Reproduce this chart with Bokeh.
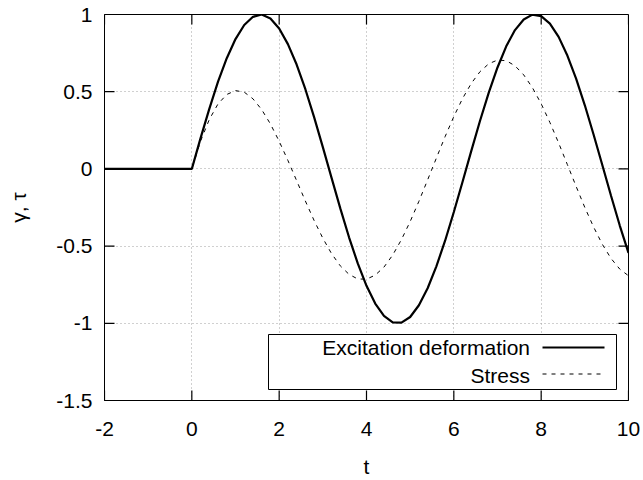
from bokeh.plotting import figure
from bokeh.models import FixedTicker, Range1d, BoxAnnotation, Label, Arrow
from bokeh.embed import file_html
from bokeh.resources import INLINE

# time samples
t = [-2.0, 0.0, 0.2, 0.4, 0.6, 0.8, 1.0, 1.2, 1.4, 1.6, 1.8, 2.0, 2.2, 2.4,
     2.6, 2.8, 3.0, 3.2, 3.4, 3.6, 3.8, 4.0, 4.2, 4.4, 4.6, 4.8, 5.0, 5.2,
     5.4, 5.6, 5.8, 6.0, 6.2, 6.4, 6.6, 6.8, 7.0, 7.2, 7.4, 7.6, 7.8, 8.0,
     8.2, 8.4, 8.6, 8.8, 9.0, 9.2, 9.4, 9.6, 9.8, 10.0]

# excitation deformation (gamma)
gamma = [0.0, 0.0, 0.199, 0.389, 0.565, 0.717, 0.841, 0.932, 0.985, 1.000,
         0.974, 0.909, 0.808, 0.676, 0.516, 0.335, 0.141, -0.058, -0.256,
         -0.443, -0.612, -0.757, -0.872, -0.952, -0.994, -0.996, -0.959,
         -0.883, -0.773, -0.631, -0.465, -0.279, -0.083, 0.117, 0.312, 0.494,
         0.657, 0.794, 0.899, 0.968, 0.999, 0.989, 0.941, 0.855, 0.734, 0.585,
         0.412, 0.223, 0.025, -0.174, -0.367, -0.544]

# stress response (tau)
tau = [0.0, 0.0, 0.180, 0.320, 0.421, 0.482, 0.507, 0.497, 0.454, 0.384,
       0.291, 0.179, 0.055, -0.076, -0.208, -0.334, -0.449, -0.549, -0.628,
       -0.683, -0.713, -0.714, -0.688, -0.636, -0.558, -0.458, -0.341,
       -0.210, -0.071, 0.070, 0.209, 0.339, 0.456, 0.554, 0.630, 0.681,
       0.705, 0.701, 0.668, 0.609, 0.526, 0.422, 0.301, 0.168, 0.028, -0.113,
       -0.250, -0.376, -0.488, -0.580, -0.649, -0.692]

x_ticks = [-2, 0, 2, 4, 6, 8, 10]
x_tick_labels = ["-2", "0", "2", "4", "6", "8", "10"]
y_ticks = [-1.5, -1, -0.5, 0, 0.5, 1]
y_tick_labels = ["-1.5", "-1", "-0.5", "0", "0.5", "1"]

series_names = ["Excitation deformation", "Stress"]
x_title = "t"
y_title = "γ, τ"

X0, X1 = -2, 10
Y0, Y1 = -1.5, 1
FONT = "Liberation Sans"
FS = "21px"

# frame placement in pixels
FL, FR, FT, FB = 104, 628, 14, 400
W, H = 643, 480
TICK_PX = 10

p = figure(width=W, height=H, output_backend="svg", toolbar_location=None,
           x_range=Range1d(X0, X1), y_range=Range1d(Y0, Y1),
           min_border_left=FL, min_border_right=W - FR,
           min_border_top=FT, min_border_bottom=H - FB)
p.background_fill_color = "white"
p.border_fill_color = "white"
p.outline_line_color = "black"
p.outline_line_width = 1


def style_axis(ax, ticks, labels):
    ax.ticker = FixedTicker(ticks=ticks)
    ax.axis_line_color = "black"
    ax.major_tick_line_color = None
    ax.major_tick_in = 0
    ax.major_tick_out = 0
    ax.minor_tick_line_color = None
    ax.major_label_text_font = FONT
    ax.major_label_text_font_size = FS
    ax.major_label_text_color = "black"
    ax.major_label_overrides = {float(k): s for k, s in zip(ticks, labels)}
    ax.axis_label_text_font = FONT
    ax.axis_label_text_font_size = FS
    ax.axis_label_text_font_style = "normal"
    ax.axis_label_text_color = "black"


style_axis(p.xaxis[0], x_ticks, x_tick_labels)
style_axis(p.yaxis[0], y_ticks, y_tick_labels)
p.xaxis[0].axis_label = x_title
p.xaxis[0].major_label_standoff = 21
p.xaxis[0].axis_label_standoff = 16
p.yaxis[0].axis_label = y_title
p.yaxis[0].major_label_standoff = 12
p.yaxis[0].axis_label_standoff = 23

p.xgrid[0].ticker = FixedTicker(ticks=x_ticks)
p.ygrid[0].ticker = FixedTicker(ticks=y_ticks)
for g in (p.xgrid[0], p.ygrid[0]):
    g.grid_line_color = "#a0a0a0"
    g.grid_line_dash = "1 3"
    g.grid_line_width = 1

# inward ticks on all four sides of the frame
tx = TICK_PX / (FB - FT) * (Y1 - Y0)
ty = TICK_PX / (FR - FL) * (X1 - X0)
nx, ny = len(x_ticks), len(y_ticks)
tick_style = dict(line_color="black", line_width=1.2)
p.segment(x0=x_ticks, y0=[Y0] * nx, x1=x_ticks, y1=[Y0 + tx] * nx, **tick_style)
p.segment(x0=x_ticks, y0=[Y1] * nx, x1=x_ticks, y1=[Y1 - tx] * nx, **tick_style)
p.segment(x0=[X0] * ny, y0=y_ticks, x1=[X0 + ty] * ny, y1=y_ticks, **tick_style)
p.segment(x0=[X1] * ny, y0=y_ticks, x1=[X1 - ty] * ny, y1=y_ticks, **tick_style)

p.line(t, gamma, line_color="black", line_width=2.2)
p.line(t, tau, line_color="black", line_width=1, line_dash="4 5")


def px_x(px):
    return X0 + (px - FL) / (FR - FL) * (X1 - X0)


def px_y(py):
    return Y1 - (py - FT) / (FB - FT) * (Y1 - Y0)


# legend drawn gnuplot-style: right-aligned text, sample to its right
p.add_layout(BoxAnnotation(left=px_x(268), right=px_x(616),
                           top=px_y(334), bottom=px_y(389),
                           fill_color="white", fill_alpha=1.0,
                           line_color="black", line_alpha=1.0, line_width=1))

entries = [(series_names[0], 347, 347, dict(line_width=2.2)),
           (series_names[1], 375, 373.5, dict(line_width=1, line_dash="4 5"))]
for name, mid_py, line_py, style in entries:
    p.add_layout(Label(x=px_x(529.5), y=px_y(mid_py), text=name,
                       text_align="right", text_baseline="middle",
                       text_font=FONT, text_font_size=FS, text_color="black"))
    p.add_layout(Arrow(end=None, x_start=px_x(542), x_end=px_x(604),
                       y_start=px_y(line_py), y_end=px_y(line_py),
                       line_color="black", **style))

open("out.html", "w").write(file_html(p, INLINE))
